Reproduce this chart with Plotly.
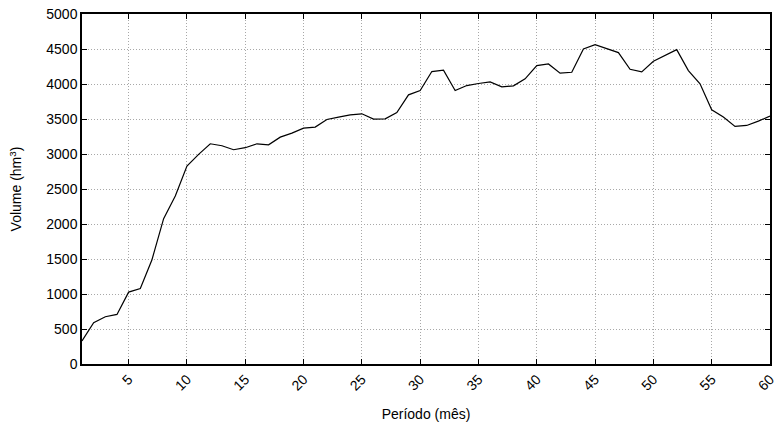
import plotly.graph_objects as go

periodo = list(range(1, 61))
volume = [330, 590, 675, 708, 1027, 1079, 1490, 2077, 2400, 2828,
          2994, 3146, 3118, 3061, 3090, 3146, 3132, 3241, 3298, 3370,
          3384, 3493, 3527, 3560, 3574, 3498, 3503, 3593, 3845, 3907,
          4178, 4197, 3907, 3978, 4007, 4030, 3959, 3974, 4073, 4263,
          4287, 4154, 4168, 4501, 4563, 4506, 4449, 4211, 4173, 4325,
          4411, 4491, 4192, 4002, 3631, 3527, 3394, 3408, 3470, 3541]
x_ticks = list(range(5, 61, 5))
y_ticks = list(range(0, 5001, 500))

fig = go.Figure(go.Scatter(x=periodo, y=volume, mode="lines",
                           line=dict(color="black", width=1.2)))

axis_common = dict(showline=True, linecolor="black", linewidth=1.5, mirror="ticks",
                   ticks="inside", ticklen=5, tickcolor="black", tickwidth=1,
                   showgrid=True, gridcolor="#a8a8a8", griddash="1px,2px", gridwidth=1,
                   zeroline=False, tickfont=dict(size=14, color="black"),
                   ticklabeloverflow="allow")

fig.update_xaxes(range=[1, 60], tickvals=x_ticks, tickangle=-45,
                 title=dict(text="Período (mês)", font=dict(size=14, color="black"), standoff=17),
                 **axis_common)
fig.update_yaxes(range=[0, 5000], tickvals=y_ticks,
                 title=dict(text="Volume (hm<sup>3</sup>)", font=dict(size=14, color="black"), standoff=21),
                 **axis_common)

fig.update_layout(width=775, height=423, margin=dict(l=82, r=5, t=14, b=59, autoexpand=False),
                  paper_bgcolor="white", plot_bgcolor="white",
                  font=dict(family="Liberation Sans, Arial, sans-serif", color="black"),
                  showlegend=False)

fig.write_html("out.html", config={"displayModeBar": False},
               post_script="document.body.style.margin='0';")
